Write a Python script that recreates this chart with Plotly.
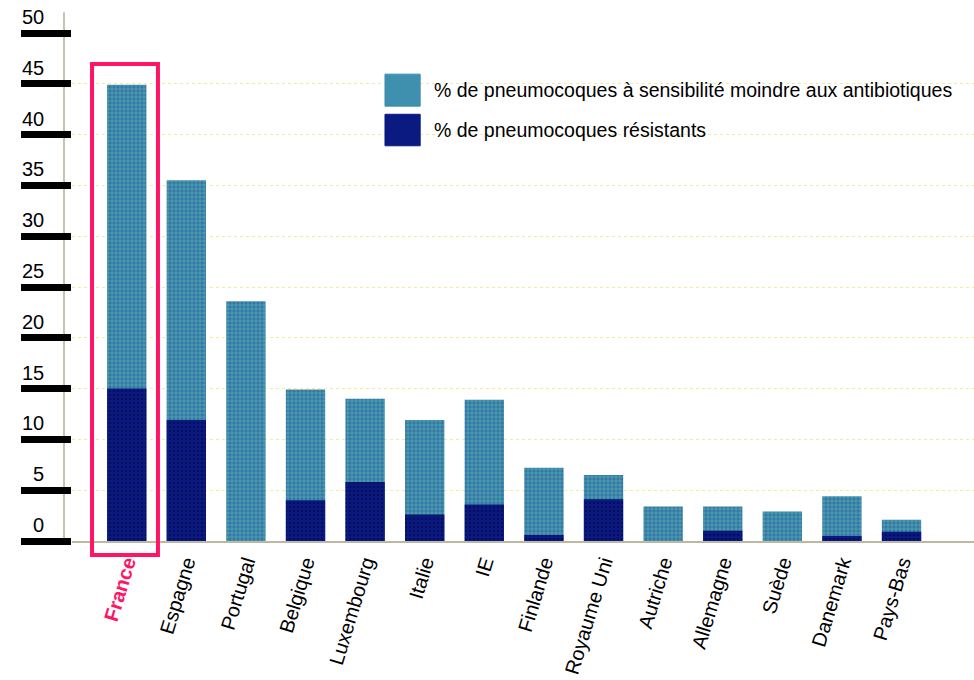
import plotly.graph_objects as go

countries = ["France", "Espagne", "Portugal", "Belgique", "Luxembourg", "Italie", "IE",
             "Finlande", "Royaume Uni", "Autriche", "Allemagne", "Suède", "Danemark", "Pays-Bas"]
moindre = [44.9, 35.5, 23.6, 14.9, 14.0, 11.9, 13.9, 7.2, 6.5, 3.4, 3.4, 2.9, 4.4, 2.1]
resistants = [15.0, 11.9, 0.0, 4.0, 5.8, 2.6, 3.6, 0.6, 4.1, 0.0, 1.0, 0.0, 0.5, 0.9]
y_ticks = [0, 5, 10, 15, 20, 25, 30, 35, 40, 45, 50]
legend_labels = ["% de pneumocoques à sensibilité moindre aux antibiotiques",
                 "% de pneumocoques résistants"]

LIGHT = "#43a0a6"
DARK = "#0b1a80"
PINK = "#ff1466"
FONT = "Liberation Sans, Arial, sans-serif"

fig = go.Figure()
fig.add_trace(go.Bar(
    x=countries, y=moindre, name=legend_labels[0],
    marker=dict(color=LIGHT, line=dict(width=0),
                pattern=dict(shape=".", fgcolor="#3348b0", size=4, solidity=0.55)),
))
fig.add_trace(go.Bar(
    x=countries, y=resistants, name=legend_labels[1],
    marker=dict(color=DARK, line=dict(width=0),
                pattern=dict(shape=".", fgcolor="#000040", size=4, solidity=0.35)),
))

ticktext = [f"<b><span style='color:{PINK}'>{c}</span></b>" if c == "France" else c
            for c in countries]

fig.update_layout(
    width=974, height=680,
    margin=dict(l=72, r=0, t=33, b=139),
    paper_bgcolor="white", plot_bgcolor="white",
    barmode="overlay", bargap=0.34,
    showlegend=False,
    font=dict(family=FONT, color="black"),
    xaxis=dict(
        type="category", range=[-0.918, 14.216], automargin=False,
        tickmode="array", tickvals=countries, ticktext=ticktext,
        tickangle=-73, tickfont=dict(size=20, family=FONT, color="black"),
        ticklabelstandoff=0,
        showline=True, linecolor="#bdb8a0", linewidth=2,
        ticks="", showgrid=False, zeroline=False,
    ),
    yaxis=dict(
        range=[0, 50], tickvals=y_ticks, showticklabels=False, automargin=False,
        ticks="outside", ticklen=50, tickwidth=7, tickcolor="black",
        showgrid=True, gridcolor="#f4ec9a", griddash="dot", gridwidth=1,
        showline=False, zeroline=False,
    ),
)

# y tick labels sitting above the thick tick bars
for v in y_ticks:
    fig.add_annotation(
        x=-0.0288, xref="paper", y=v, yref="y", yshift=16,
        text=str(v), showarrow=False, xanchor="right", yanchor="middle",
        font=dict(size=20, family=FONT, color="black"),
    )

# thin grey vertical axis line
fig.add_shape(type="line", xref="paper", yref="paper",
              x0=-0.0089, x1=-0.0089, y0=0, y1=1.041,
              line=dict(color="#c8c4a8", width=2), layer="below")

# pink highlight box around France
fig.add_shape(type="rect", xref="x domain", yref="y domain",
              x0=0.0222, x1=0.0953, y0=-0.0276, y1=0.939,
              line=dict(color=PINK, width=4), fillcolor="rgba(0,0,0,0)")

# custom legend
leg_colors = ["#3f8fae", DARK]
leg_y = [[0.856, 0.919], [0.778, 0.840]]
for i in range(2):
    fig.add_shape(type="rect", xref="paper", yref="paper",
                  x0=0.347, x1=0.386, y0=leg_y[i][0], y1=leg_y[i][1],
                  fillcolor=leg_colors[i], line=dict(color=leg_colors[i], width=1))
    fig.add_annotation(
        x=0.399, xref="paper", y=(leg_y[i][0] + leg_y[i][1]) / 2, yref="paper",
        text=legend_labels[i], showarrow=False, xanchor="left", yanchor="middle",
        font=dict(size=19.5, family=FONT, color="black"),
    )

fig.write_html("out.html")
